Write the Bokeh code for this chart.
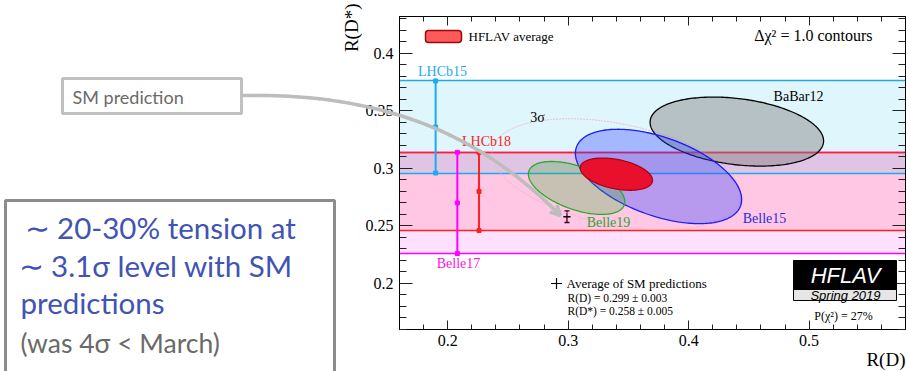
import numpy as np
from bokeh.plotting import figure
from bokeh.layouts import row
from bokeh.models import (Range1d, LinearAxis, FixedTicker, Label, BoxAnnotation,
                          Arrow, OpenHead, TeeHead, Whisker, ColumnDataSource,
                          CustomLabelingPolicy)
from bokeh.embed import file_html
from bokeh.resources import INLINE

# ---------------- data ----------------
exp_names = ["BaBar12", "Belle15", "Belle19", "HFLAV average"]
exp_rd = [0.440, 0.375, 0.307, 0.340]
exp_rd_err = [0.072, 0.069, 0.040, 0.030]
exp_rds = [0.332, 0.293, 0.283, 0.295]
exp_rds_err = [0.030, 0.041, 0.023, 0.014]
exp_rho = [-0.27, -0.49, -0.52, -0.38]

band_names = ["Belle17", "LHCb18", "LHCb15"]
band_rds = [0.270, 0.280, 0.336]
band_rds_err = [0.044, 0.034, 0.040]
band_bar_rd = [0.208, 0.226, 0.190]

sm_rd = [0.299]
sm_rd_err = [0.003]
sm_rds = [0.258]
sm_rds_err = [0.005]

dchi2_contour = 1.0
dchi2_3sigma = 11.83
p_chi2 = "27%"

x_ticks = [0.2, 0.3, 0.4, 0.5]
x_tick_labels = ["0.2", "0.3", "0.4", "0.5"]
y_ticks = [0.2, 0.25, 0.3, 0.35, 0.4]
y_tick_labels = ["0.2", "0.25", "0.3", "0.35", "0.4"]
x_minor = [round(0.16 + 0.02 * i, 2) for i in range(22)]
y_minor = [round(0.16 + 0.01 * i, 2) for i in range(28)]

# ---------------- layout ----------------
W, H = 906, 371
BL, BR, BT, BB = 399, 1, 16, 42
X0, X1 = 0.16, 0.58
Y0, Y1 = 0.16, 0.432
FL = BL
FR = W - BR
FT = BT
FB = H - BB


def fx(px):
    return X0 + (px - FL) * (X1 - X0) / (FR - FL)


def fy(py):
    return Y0 + (FB - py) * (Y1 - Y0) / (FB - FT)


def no_align(fig):
    if "frame_align" in fig.properties():
        fig.frame_align = False


p = figure(width=W, height=H, x_range=Range1d(X0, X1), y_range=Range1d(Y0, Y1),
           output_backend="svg", toolbar_location=None,
           min_border_left=BL, min_border_right=BR, min_border_top=BT, min_border_bottom=BB)
no_align(p)
p.grid.visible = False
p.outline_line_color = "black"
p.outline_line_width = 1
p.background_fill_color = "white"
p.border_fill_color = "white"

hide_all = CustomLabelingPolicy(code="""
try { const n = indices.size; for (let i = 0; i < n; i++) { indices.unset(i) } } catch (e) {}
return indices
""")


def style_axis(ax, ticks, minor, labels, major_in, minor_in, show_labels, standoff=5):
    ax.ticker = FixedTicker(ticks=ticks, minor_ticks=minor)
    ax.major_tick_in = major_in
    ax.major_tick_out = 0
    ax.minor_tick_in = minor_in
    ax.minor_tick_out = 0
    ax.axis_line_color = "black"
    ax.major_tick_line_color = "#222222"
    ax.minor_tick_line_color = "#222222"
    ax.axis_label = None
    if show_labels:
        ax.major_label_overrides = dict(zip(ticks, labels))
        ax.major_label_text_font = "Liberation Serif"
        ax.major_label_text_font_size = "16px"
        ax.major_label_text_color = "black"
        ax.major_label_standoff = standoff
    else:
        ax.major_label_policy = hide_all
        ax.major_label_text_font_size = "1px"
        ax.major_label_text_alpha = 0
        ax.major_label_standoff = 0


style_axis(p.xaxis[0], x_ticks, x_minor, x_tick_labels, 9, 5, True, 5)
style_axis(p.yaxis[0], y_ticks, y_minor, y_tick_labels, 13, 7, True, 6)
top_ax = LinearAxis()
style_axis(top_ax, x_ticks, x_minor, x_tick_labels, 9, 5, False)
right_ax = LinearAxis()
style_axis(right_ax, y_ticks, y_minor, y_tick_labels, 13, 7, False)
p.add_layout(top_ax, "above")
p.add_layout(right_ax, "right")

# ---------------- R(D*) bands ----------------
band_fill = {"Belle17": ("#ff00ff", 0.12), "LHCb18": ("#ff0000", 0.11), "LHCb15": ("#00b4f0", 0.12)}
band_col = {"Belle17": "#ff00ff", "LHCb18": "#ff2020", "LHCb15": "#1eaaee"}
for n, c, e in zip(band_names, band_rds, band_rds_err):
    fc, fa = band_fill[n]
    p.hstrip(y0=[c - e], y1=[c + e], fill_color=fc, fill_alpha=fa, line_alpha=0)
for n, c, e in zip(band_names, band_rds, band_rds_err):
    p.hspan(y=[c - e, c + e], line_color=band_col[n], line_width=1.3)
for n, c, e, bx in zip(band_names, band_rds, band_rds_err, band_bar_rd):
    p.segment(x0=[bx], y0=[c - e], x1=[bx], y1=[c + e], line_color=band_col[n], line_width=2)
    p.scatter(x=[bx, bx, bx], y=[c - e, c, c + e], size=4, marker="square",
              color=band_col[n])


# ---------------- contours ----------------
def contour(cx, sx, cy, sy, rho, k, n=240):
    t = np.linspace(0, 2 * np.pi, n)
    r = np.sqrt(k)
    xs = cx + r * sx * np.cos(t)
    ys = cy + r * sy * (rho * np.cos(t) + np.sqrt(1 - rho ** 2) * np.sin(t))
    return xs, ys


ia = exp_names.index("HFLAV average")
xs3, ys3 = contour(exp_rd[ia], exp_rd_err[ia], exp_rds[ia], exp_rds_err[ia], exp_rho[ia], dchi2_3sigma)
p.line(xs3, ys3, line_color="#f2b4be", line_width=1, line_dash="2 1", line_alpha=0.85)

exp_style = {
    "BaBar12": dict(fill_color="#808080", fill_alpha=0.45, line_color="black"),
    "Belle15": dict(fill_color="#3246ff", fill_alpha=0.35, line_color="#1a1aff"),
    "Belle19": dict(fill_color="#32b432", fill_alpha=0.28, line_color="#2aa82a"),
    "HFLAV average": dict(fill_color="#e8102c", fill_alpha=1.0, line_color="#b00010"),
}
for n, cx, sx, cy, sy, r in zip(exp_names, exp_rd, exp_rd_err, exp_rds, exp_rds_err, exp_rho):
    xs, ys = contour(cx, sx, cy, sy, r, dchi2_contour)
    p.patch(xs, ys, line_width=1.3, **exp_style[n])

# ---------------- SM prediction ----------------
sm_src = ColumnDataSource(dict(x=sm_rd, y=sm_rds,
                               xl=[a - b for a, b in zip(sm_rd, sm_rd_err)],
                               xh=[a + b for a, b in zip(sm_rd, sm_rd_err)],
                               yl=[a - b for a, b in zip(sm_rds, sm_rds_err)],
                               yh=[a + b for a, b in zip(sm_rds, sm_rds_err)]))
p.segment(x0="xl", y0="y", x1="xh", y1="y", source=sm_src, line_color="black", line_width=1.3)
p.add_layout(Whisker(base="x", lower="yl", upper="yh", dimension="height", source=sm_src,
                     line_color="black", line_width=1.3,
                     upper_head=TeeHead(size=5, line_width=1.3, line_color="black"),
                     lower_head=TeeHead(size=5, line_width=1.3, line_color="black")))


# ---------------- texts inside the frame ----------------
def add_text(fig, conv_x, conv_y, text, px, py, size, color="black", font="Liberation Serif",
             align="center", baseline="middle", style="normal", angle=0.0):
    fig.add_layout(Label(x=conv_x(px), y=conv_y(py), text=text, text_font=font,
                         text_font_size=f"{size}px", text_color=color, text_align=align,
                         text_baseline=baseline, text_font_style=style, angle=angle))


def ptext(*a, **k):
    add_text(p, fx, fy, *a, **k)


def box(fig, left, right, top, bottom, fill, line, lw=1.0, **kw):
    fig.add_layout(BoxAnnotation(left=left, right=right, top=top, bottom=bottom,
                                 fill_color=fill, fill_alpha=1, line_color=line,
                                 line_alpha=1, line_width=lw, **kw))


ptext("LHCb15", 442, 71, 14, "#1eaaee")
ptext("LHCb18", 486, 141, 14, "#ff2020")
ptext("Belle17", 458, 263, 14, "#ff10ee")
ptext("Belle19", 608, 222, 14, "#2aa82a")
ptext("Belle15", 764, 218, 14, "#2a2ae0")
ptext("BaBar12", 798, 96, 14, "black")
ptext("3σ", 537, 117, 14, "black")

box(p, fx(425), fx(461), fy(30), fy(42), "#ff5a5a", "#9a0a0a", 1.5, border_radius=3)
ptext("HFLAV average", 468, 36, 13, align="left")
ptext(f"Δχ² = {dchi2_contour:.1f} contours", 872, 35, 16, align="right")

p.scatter(x=[fx(556)], y=[fy(283)], marker="cross", size=11, line_color="black", line_width=1.2)
ptext("Average of SM predictions", 566, 283, 13, align="left")
ptext(f"R(D) = {sm_rd[0]:.3f} ± {sm_rd_err[0]:.3f}", 567, 297, 11.5, align="left")
ptext(f"R(D*) = {sm_rds[0]:.3f} ± {sm_rds_err[0]:.3f}", 567, 310, 11.5, align="left")

box(p, fx(793), fx(896), fy(260), fy(289), "black", "black", 1)
box(p, fx(793), fx(896), fy(289), fy(300), "#e6e6e6", "black", 1)
ptext("HFLAV", 845, 275, 22, "white", font="Liberation Sans", style="italic")
ptext("Spring 2019", 845, 295, 13, "black", font="Liberation Sans", style="italic")
ptext(f"P(χ²) = {p_chi2}", 843, 315, 12)

# ---------------- overlay figure (page pixel coordinates) ----------------
ov = figure(width=W, height=H, x_range=Range1d(0, W), y_range=Range1d(H, 0),
            output_backend="svg", toolbar_location=None, min_border=0,
            x_axis_location=None, y_axis_location=None)
no_align(ov)
ov.grid.visible = False
ov.outline_line_color = None
ov.background_fill_alpha = 0
ov.border_fill_alpha = 0
ov.margin = (0, 0, 0, -W)


def otext(*a, **k):
    add_text(ov, lambda v: v, lambda v: v, *a, **k)


otext("R(D)", 905, 359, 19, align="right")
otext("R(D*)", 351, 3, 19, align="right", angle=np.pi / 2)

box(ov, 62, 241, 78, 113, "white", "#c0c0c0", 3)
otext("SM  prediction", 72, 96, 18, "#6a6a6a", font="Lato", align="left")

box(ov, 5, 334, 200, 385, "white", "#8c8c8c", 3)
blue = "#4054b4"
otext("∼  20-30% tension at", 24, 227, 29.5, blue, font="Lato", align="left")
otext("∼  3.1σ level with SM", 18, 265, 29.5, blue, font="Lato", align="left")
otext("predictions", 20, 302, 29.5, blue, font="Lato", align="left")
otext("(was 4σ  <  March)", 20, 342, 26.5, "#6a6a6a", font="Lato", align="left")

P0, C1, C2, P3 = (242, 95), (400, 92), (490, 145), (560, 215)
s = np.linspace(0, 1, 41)
bxp = (1 - s) ** 3 * P0[0] + 3 * (1 - s) ** 2 * s * C1[0] + 3 * (1 - s) * s ** 2 * C2[0] + s ** 3 * P3[0]
byp = (1 - s) ** 3 * P0[1] + 3 * (1 - s) ** 2 * s * C1[1] + 3 * (1 - s) * s ** 2 * C2[1] + s ** 3 * P3[1]
arr_src = ColumnDataSource(dict(x0=bxp[:-2], y0=byp[:-2], x1=bxp[1:-1], y1=byp[1:-1]))
gray = "#bdbdbd"
ov.add_layout(Arrow(end=None, source=arr_src, x_start="x0", y_start="y0", x_end="x1", y_end="y1",
                    line_color=gray, line_width=3.5, line_cap="round"))
ov.add_layout(Arrow(end=OpenHead(size=10, line_color=gray, line_width=3.5),
                    x_start=float(bxp[-2]), y_start=float(byp[-2]),
                    x_end=float(bxp[-1]), y_end=float(byp[-1]),
                    line_color=gray, line_width=3.5, line_cap="round"))

layout = row(p, ov)
open("out.html", "w").write(file_html(layout, INLINE))
